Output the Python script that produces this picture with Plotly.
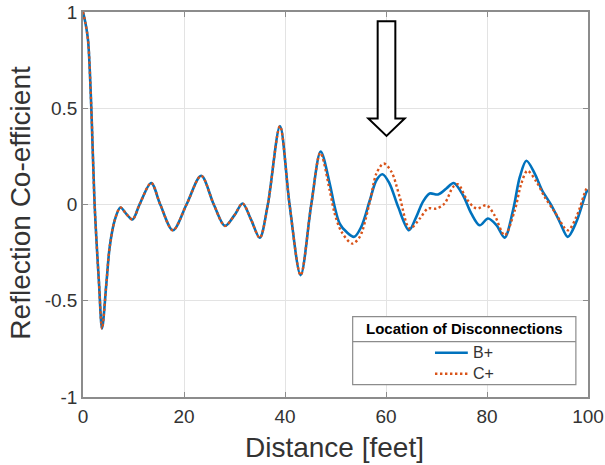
import plotly.graph_objects as go

# ---- data ----
x_common = [0, 0.5, 1.0, 1.65, 2.3, 3.17, 3.77, 4.63, 5.29, 6.3, 7.4, 8.6, 9.8, 11.2, 13.5, 15.3,
            17.8, 20.5, 23.4, 25.9, 28.1, 30.0, 31.6, 33.3, 35.0, 36.6, 39.0, 40.9, 43.1, 45.2]
y_common = [1.0, 0.94, 0.853, 0.5, 0.0, -0.41, -0.644, -0.41, -0.22, -0.08, -0.016, -0.05, -0.078, 0.0,
            0.112, 0.0, -0.134, 0.0, 0.149, 0.0, -0.111, -0.055, 0.005, -0.08, -0.173, 0.0, 0.407, 0.0,
            -0.367, 0.0]

x_b = [47.07, 48.85, 49.84, 50.83, 52.15, 53.7, 55.1, 56.8, 58.1, 59.3, 60.7, 62.4, 64.55, 66.0,
       67.3, 68.65, 70.3, 71.95, 73.4, 75.25, 76.9, 78.55, 80.2, 81.9, 83.5, 85.15, 86.5, 87.8,
       89.45, 90.9, 92.75, 94.4, 96.0, 97.7, 99.7, 100]
y_b = [0.275, 0.109, -0.012, -0.099, -0.142, -0.168, -0.116, 0.022, 0.126, 0.157, 0.109, -0.012,
       -0.134, -0.064, 0.014, 0.057, 0.052, 0.083, 0.112, 0.048, -0.047, -0.108, -0.073, -0.108,
       -0.172, -0.03, 0.143, 0.227, 0.161, 0.074, -0.004, -0.09, -0.168, -0.09, 0.065, 0.075]

x_c = [47.0, 48.85, 49.84, 51.2, 53.3, 54.8, 56.8, 58.1, 59.55, 61.1, 62.7, 64.7, 66.7, 68.3,
       70.0, 71.6, 73.3, 74.3, 75.9, 77.9, 79.9, 81.5, 83.5, 85.5, 86.8, 88.0, 89.8, 91.4, 93.4,
       96.0, 97.7, 99.7, 100]
y_c = [0.268, 0.074, -0.047, -0.142, -0.203, -0.168, 0.014, 0.161, 0.213, 0.169, 0.04, -0.125,
       -0.073, -0.021, -0.021, 0.005, 0.092, 0.105, 0.031, -0.021, -0.004, -0.056, -0.16, -0.03,
       0.109, 0.175, 0.118, 0.04, -0.038, -0.134, -0.064, 0.083, 0.09]

series_names = ["B+", "C+"]
x_ticks = [0, 20, 40, 60, 80, 100]
y_ticks = [-1, -0.5, 0, 0.5, 1]
y_ticklabels = ["-1", "-0.5", "0", "0.5", "1"]
legend_title = "Location of Disconnections"

BLUE = "#0072BD"
ORANGE = "#D95319"
FONT = "Liberation Sans, Arial, Helvetica, sans-serif"
TXT = "#333333"

fig = go.Figure()
fig.add_trace(go.Scatter(x=x_common + x_b, y=y_common + y_b, mode="lines", name=series_names[0],
                         line=dict(color=BLUE, width=2.6, shape="spline", smoothing=0.9),
                         showlegend=False))
fig.add_trace(go.Scatter(x=x_common + x_c, y=y_common + y_c, mode="lines", name=series_names[1],
                         line=dict(color=ORANGE, width=2.4, dash="2.4px,2.6px", shape="spline",
                                   smoothing=0.9),
                         showlegend=False))

axis_common = dict(showgrid=True, gridcolor="#e3e3e3", gridwidth=1, zeroline=False,
                   showline=True, linecolor="#8c8c8c", linewidth=1.5, mirror="ticks",
                   ticks="inside", ticklen=5, tickcolor="#8c8c8c", tickwidth=1,
                   automargin=False, ticklabeloverflow="allow",
                   tickfont=dict(family=FONT, size=19, color=TXT))

fig.update_xaxes(range=[0, 100], tickvals=x_ticks, ticktext=[str(v) for v in x_ticks],
                 ticklabelstandoff=1, **axis_common)
fig.update_yaxes(range=[-1, 1], tickvals=y_ticks, ticktext=y_ticklabels,
                 ticklabelstandoff=0, **axis_common)

shapes = []
# arrow (outlined block arrow) pointing at the 60 ft feature
shapes.append(dict(type="path", xref="x", yref="y",
                   path="M 58.35 0.952 L 61.85 0.952 L 61.85 0.447 L 63.7 0.447 L 60.1 0.356 "
                        "L 56.5 0.447 L 58.35 0.447 Z",
                   line=dict(color="black", width=2), fillcolor="white", layer="above"))

# legend box
LX0, LX1, LY0, LY1, LSEP = 0.534, 0.976, 0.032, 0.209, 0.144
shapes.append(dict(type="rect", xref="paper", yref="paper", x0=LX0, x1=LX1, y0=LY0, y1=LY1,
                   line=dict(color="#8c8c8c", width=1.2), fillcolor="white", layer="above"))
shapes.append(dict(type="line", xref="paper", yref="paper", x0=LX0, x1=LX1, y0=LSEP, y1=LSEP,
                   line=dict(color="#8c8c8c", width=1.2), layer="above"))
entry_y = [0.115, 0.0605]
shapes.append(dict(type="line", xref="paper", yref="paper", x0=0.697, x1=0.762,
                   y0=entry_y[0], y1=entry_y[0], line=dict(color=BLUE, width=2.6), layer="above"))
shapes.append(dict(type="line", xref="paper", yref="paper", x0=0.697, x1=0.762,
                   y0=entry_y[1], y1=entry_y[1],
                   line=dict(color=ORANGE, width=2.4, dash="2.4px,2.6px"), layer="above"))

annotations = [
    dict(text="<b>" + legend_title + "</b>", xref="paper", yref="paper", x=0.755, y=0.177,
         xanchor="center", yanchor="middle", showarrow=False,
         font=dict(family=FONT, size=15, color="black")),
    dict(text=series_names[0], xref="paper", yref="paper", x=0.768, y=entry_y[0],
         xanchor="left", yanchor="middle", showarrow=False,
         font=dict(family=FONT, size=16, color=TXT)),
    dict(text=series_names[1], xref="paper", yref="paper", x=0.768, y=entry_y[1],
         xanchor="left", yanchor="middle", showarrow=False,
         font=dict(family=FONT, size=16, color=TXT)),
    dict(text="Distance [feet]", xref="paper", yref="paper", x=0.498, y=-0.132,
         xanchor="center", yanchor="middle", showarrow=False,
         font=dict(family=FONT, size=28, color=TXT)),
    dict(text="Reflection Co-efficient", xref="paper", yref="paper", x=-0.1234, y=0.504,
         xanchor="center", yanchor="middle", showarrow=False, textangle=-90,
         font=dict(family=FONT, size=28, color=TXT)),
]

fig.update_layout(width=605, height=465, margin=dict(l=83, r=17, t=12, b=68),
                  plot_bgcolor="white", paper_bgcolor="white",
                  shapes=shapes, annotations=annotations, showlegend=False)

# remove the default 8px page margin so the figure fills the window exactly
fig.write_html("out.html", config={"displayModeBar": False},
               post_script="document.body.style.margin='0';")
